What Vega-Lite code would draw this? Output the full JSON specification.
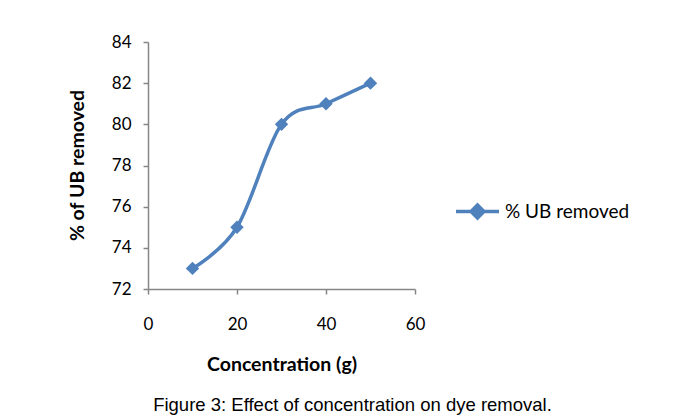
{
  "$schema": "https://vega.github.io/schema/vega-lite/v6.json",
  "width": 267,
  "height": 247,
  "autosize": {"type": "none"},
  "padding": {"left": 148, "top": 42, "right": 263, "bottom": 130},
  "background": "white",
  "data": {"values": [
    {"conc": 10, "removed": 73, "series": "% UB removed"},
    {"conc": 20, "removed": 75, "series": "% UB removed"},
    {"conc": 30, "removed": 80, "series": "% UB removed"},
    {"conc": 40, "removed": 81, "series": "% UB removed"},
    {"conc": 50, "removed": 82, "series": "% UB removed"}
  ]},
  "title": {
    "text": "Figure 3: Effect of concentration on dye removal.",
    "orient": "bottom",
    "anchor": "middle",
    "dx": 71,
    "offset": 22,
    "font": "Liberation Sans",
    "fontSize": 18.5,
    "fontWeight": "normal",
    "color": "#000000"
  },
  "mark": {
    "type": "line",
    "interpolate": "cardinal",
    "strokeWidth": 3.5,
    "point": {"shape": "diamond", "filled": true, "size": 180, "opacity": 1}
  },
  "encoding": {
    "x": {
      "field": "conc", "type": "quantitative",
      "scale": {"domain": [0, 60], "nice": false},
      "axis": {
        "values": [0, 20, 40, 60],
        "title": "Concentration (g)",
        "grid": false,
        "labelFlush": false,
        "domainColor": "#868686", "tickColor": "#868686",
        "domainWidth": 1.5, "tickWidth": 1.5,
        "tickSize": 5,
        "labelPadding": 22,
        "labelFont": "Lato", "labelFontSize": 17, "labelColor": "#000000",
        "titleFont": "Lato", "titleFontSize": 19.5, "titleFontWeight": "bold", "titleColor": "#000000",
        "titleY": 75, "titleBaseline": "middle"
      }
    },
    "y": {
      "field": "removed", "type": "quantitative",
      "scale": {"domain": [72, 84], "nice": false, "zero": false},
      "axis": {
        "values": [72, 74, 76, 78, 80, 82, 84],
        "title": "% of UB removed",
        "grid": false,
        "labelFlush": false,
        "domainColor": "#868686", "tickColor": "#868686",
        "domainWidth": 1.5, "tickWidth": 1.5,
        "tickSize": 5,
        "labelPadding": 12,
        "labelFont": "Lato", "labelFontSize": 17, "labelColor": "#000000",
        "titleFont": "Lato", "titleFontSize": 19.5, "titleFontWeight": "bold", "titleColor": "#000000",
        "titleX": -71, "titleY": 123, "titleAngle": -90, "titleAlign": "center", "titleBaseline": "middle"
      }
    },
    "color": {
      "field": "series", "type": "nominal",
      "scale": {"range": ["#4F81BD"]},
      "legend": {
        "title": null,
        "orient": "none",
        "legendX": 306,
        "legendY": 146,
        "symbolType": "M-1,0L1,0M0,-0.3L0.3,0L0,0.3L-0.3,0Z",
        "symbolSize": 1850,
        "symbolStrokeWidth": 3.5,
        "symbolFillColor": "#4F81BD",
        "symbolStrokeColor": "#4F81BD",
        "labelFont": "Lato", "labelFontSize": 19, "labelColor": "#000000",
        "labelOffset": 4
      }
    }
  },
  "config": {"view": {"stroke": null}}
}
